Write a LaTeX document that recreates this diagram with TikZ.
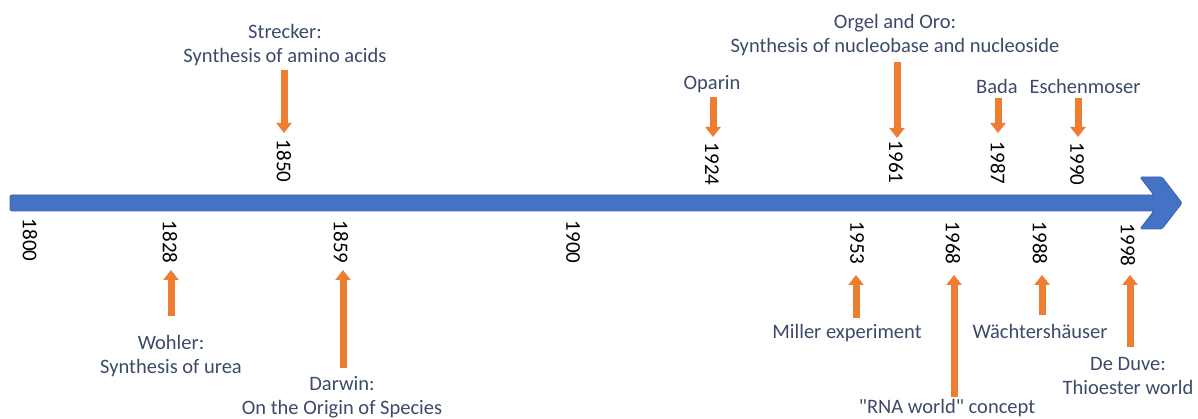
\documentclass[tikz,border=0pt]{standalone}
\usepackage{fontspec}
\setmainfont{Carlito}
\newfontfamily\straightq{Carlito}[Ligatures=TeXOff]
\usetikzlibrary{arrows.meta}
\definecolor{barblue}{HTML}{4472C4}
\definecolor{barline}{HTML}{3A64B0}
\definecolor{evorange}{HTML}{ED7D31}
\definecolor{navy}{HTML}{3B4A6A}
\begin{document}
\begin{tikzpicture}[x=1pt,y=-1pt,
  evtext/.style={text=navy, font=\fontsize{20.5}{24.5}\selectfont, align=center, inner sep=0pt},
  yearlab/.style={rotate=-90, font=\fontsize{21}{24}\selectfont, inner sep=0pt, text=black},
  evarrow/.style={draw=evorange, line width=7pt, line cap=butt, -{Triangle[width=15pt,length=10pt]}},
  timebar/.style={fill=barblue, draw=barline, line width=0.8pt, rounded corners=1.5pt}]
\useasboundingbox (0,0) rectangle (1198,419);
% timeline arrow
\filldraw[timebar] (10,211) -- (10,195) -- (1153.8,195) -- (1140,177) -- (1162,177) -- (1182,203)
  -- (1162,229) -- (1140,229) -- (1153.8,211) -- cycle;
% years below
\node[yearlab] (y1800) at (30,240) {1800};
\node[yearlab] (y1828) at (170,242) {1828};
\node[yearlab] (y1859) at (341,242) {1859};
\node[yearlab] (y1900) at (573,242) {1900};
\node[yearlab] (y1953) at (857,243) {1953};
\node[yearlab] (y1968) at (953,243) {1968};
\node[yearlab] (y1988) at (1040,243) {1988};
\node[yearlab] (y1998) at (1128,245) {1998};
% years above
\node[yearlab] (y1850) at (284,161) {1850};
\node[yearlab] (y1924) at (712,164) {1924};
\node[yearlab] (y1961) at (896,162) {1961};
\node[yearlab] (y1987) at (998,163) {1987};
\node[yearlab] (y1990) at (1077,164) {1990};
% event texts above
\node[evtext] (strecker) at (285,45) {Strecker:\\Synthesis of amino acids};
\node[evtext] (oparin) at (712,84) {Oparin};
\node[evtext] (orgel) at (895,35) {Orgel and Oro:\\Synthesis of nucleobase and nucleoside};
\node[evtext] (bada) at (997,86) {Bada};
\node[evtext] (eschen) at (1085,86) {Eschenmoser};
% event texts below
\node[evtext] (wohler) at (171,356) {Wohler:\\Synthesis of urea};
\node[evtext] (darwin) at (342,397) {Darwin:\\On the Origin of Species};
\node[evtext] (miller) at (847,333) {Miller experiment};
\node[evtext] (rna) at (947,408) {{\straightq "}RNA world{\straightq "} concept};
\node[evtext] (waecht) at (1040,331) {Wächtershäuser};
\node[evtext] (deduve) at (1128,376) {De Duve:\\Thioester world};
% arrow end points
\coordinate (s1850) at (284,70);   \coordinate (e1850) at (284,133);
\coordinate (s1924) at (713,97);   \coordinate (e1924) at (713,137);
\coordinate (s1961) at (897,62);   \coordinate (e1961) at (897,138);
\coordinate (s1987) at (998,98);   \coordinate (e1987) at (998,133);
\coordinate (s1990) at (1078,98);  \coordinate (e1990) at (1078,137);
\coordinate (s1828) at (171,316);  \coordinate (e1828) at (171,270);
\coordinate (s1859) at (343,368);  \coordinate (e1859) at (343,270);
\coordinate (s1953) at (856,318);  \coordinate (e1953) at (856,275);
\coordinate (s1968) at (954,397);  \coordinate (e1968) at (954,275);
\coordinate (s1988) at (1042,315); \coordinate (e1988) at (1042,275);
\coordinate (s1998) at (1130,347); \coordinate (e1998) at (1130,275);
\foreach \y in {1850,1924,1961,1987,1990,1828,1859,1953,1968,1988,1998}
  \draw[evarrow] (s\y) -- (e\y);
\end{tikzpicture}
\end{document}
